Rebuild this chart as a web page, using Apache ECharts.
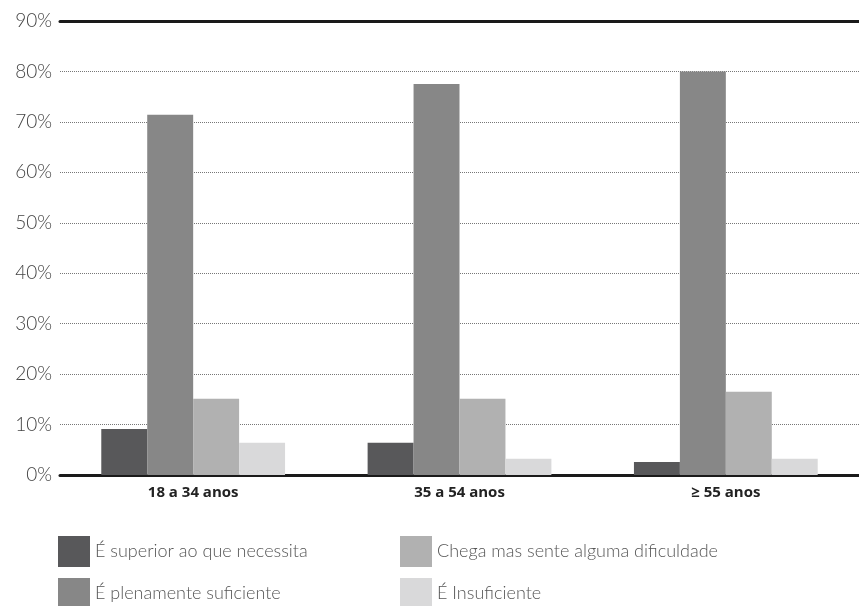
<!DOCTYPE html>
<html>
<head>
<meta charset="utf-8">
<script src="https://cdn.jsdelivr.net/npm/echarts@6/dist/echarts.min.js"></script>
<style>
  html, body { margin: 0; padding: 0; background: #fff; }
  #chart { width: 859px; height: 606px; }
</style>
</head>
<body>
<div id="chart"></div>
<script>
var categories = ['18 a 34 anos', '35 a 54 anos', '≥ 55 anos'];
var seriesNames = [
  'É superior ao que necessita',
  'É plenamente suficiente',
  'Chega mas sente alguma dificuldade',
  'É Insuficiente'
];
var superior = [9.1, 6.4, 2.6];
var plenamente = [71.4, 77.5, 80.0];
var chega = [15.1, 15.1, 16.5];
var insuficiente = [6.4, 3.2, 3.2];
var colors = ['#58585a', '#878787', '#b1b1b1', '#d9d9da'];

var chartDom = document.getElementById('chart');
var myChart = echarts.init(chartDom);

var values = [superior, plenamente, chega, insuficiente];
var series = values.map(function (v, i) {
  return {
    name: seriesNames[i],
    type: 'bar',
    data: v,
    barGap: '0%',
    barCategoryGap: '31%',
    itemStyle: { color: colors[i] }
  };
});

// legend in two columns: series 0,1 on the left, 2,3 on the right
var legendPos = [[58, 536], [58, 578], [400, 536], [400, 578]];
var legends = seriesNames.map(function (name, i) {
  return {
    left: legendPos[i][0],
    top: legendPos[i][1],
    padding: 0,
    itemWidth: 32,
    itemHeight: 31,
    icon: 'rect',
    selectedMode: false,
    data: [name],
    textStyle: {
      fontFamily: 'Lato',
      fontWeight: 300,
      fontSize: 18,
      color: '#555'
    }
  };
});

var option = {
  animation: false,
  backgroundColor: '#fff',
  color: colors,
  grid: { left: 60, right: 0, top: 21, bottom: 131 },
  legend: legends,
  xAxis: [
    {
      type: 'category',
      data: categories,
      axisTick: { show: false },
      axisLine: { lineStyle: { color: '#1a1a1a', width: 3 } },
      axisLabel: {
        margin: 10,
        fontFamily: 'Open Sans',
        fontWeight: 'bold',
        fontSize: 15,
        color: '#222'
      }
    },
    {
      // solid rule along the 90% line
      type: 'category',
      position: 'top',
      data: categories,
      axisTick: { show: false },
      axisLabel: { show: false },
      axisLine: { lineStyle: { color: '#1a1a1a', width: 3 } }
    }
  ],
  yAxis: {
    type: 'value',
    min: 0,
    max: 90,
    interval: 10,
    axisLine: { show: false },
    axisTick: { show: false },
    axisLabel: {
      formatter: '{value}%',
      margin: 8,
      fontFamily: 'Lato',
      fontWeight: 300,
      fontSize: 19,
      color: '#444'
    },
    splitLine: {
      lineStyle: { color: '#777', type: [1, 1], width: 1 }
    }
  },
  series: series
};

option && myChart.setOption(option);
</script>
</body>
</html>
